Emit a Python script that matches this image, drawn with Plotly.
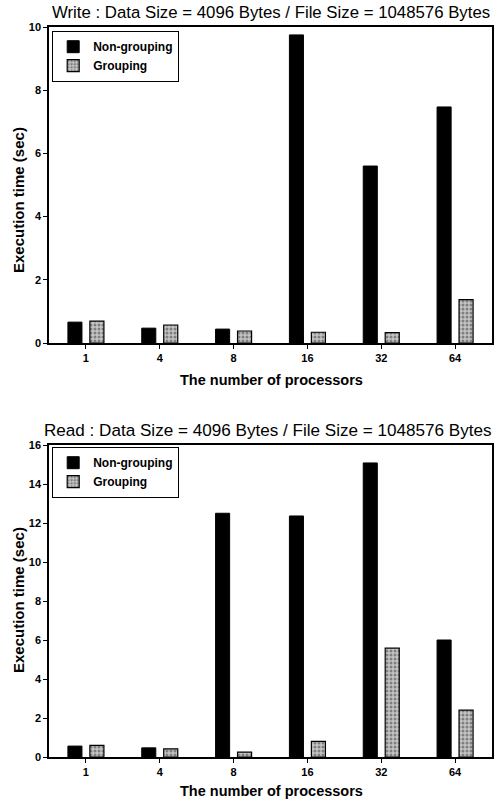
import plotly.graph_objects as go

procs = ["1", "4", "8", "16", "32", "64"]
write_nongroup = [0.66, 0.47, 0.44, 9.75, 5.6, 7.47]
write_group = [0.69, 0.57, 0.38, 0.34, 0.33, 1.37]
read_nongroup = [0.56, 0.47, 12.5, 12.36, 15.08, 6.0]
read_group = [0.6, 0.42, 0.25, 0.8, 5.58, 2.4]

write_title = "Write : Data Size = 4096 Bytes / File Size = 1048576 Bytes"
read_title = "Read : Data Size = 4096 Bytes / File Size = 1048576 Bytes"
xlab = "The number of processors"
ylab = "Execution time (sec)"

FONT = "Liberation Sans, Arial, Helvetica, sans-serif"
W, H = 496, 805

fig = go.Figure()

ng_style = dict(marker=dict(color="black", line=dict(color="black", width=1)))
g_style = dict(marker=dict(color="#b0b0b0",
                           pattern=dict(shape=".", fgcolor="#3a3a3a", bgcolor="#c4c4c4", size=4, solidity=0.45),
                           line=dict(color="black", width=1.2)))

fig.add_trace(go.Bar(x=procs, y=write_nongroup, name="Non-grouping", xaxis="x", yaxis="y",
                     legend="legend", **ng_style))
fig.add_trace(go.Bar(x=procs, y=write_group, name="Grouping", xaxis="x", yaxis="y",
                     legend="legend", **g_style))
fig.add_trace(go.Bar(x=procs, y=read_nongroup, name="Non-grouping", xaxis="x2", yaxis="y2",
                     legend="legend2", **ng_style))
fig.add_trace(go.Bar(x=procs, y=read_group, name="Grouping", xaxis="x2", yaxis="y2",
                     legend="legend2", **g_style))

xdom = [49 / W, 492 / W]
top_dom = [(H - 343) / H, (H - 27) / H]
bot_dom = [(H - 757) / H, (H - 445) / H]

tickfont = dict(family=FONT, size=11, color="black", weight="bold")
axis_common = dict(showline=True, linecolor="black", linewidth=1.5, mirror=True,
                   ticks="outside", ticklen=4, tickcolor="black", tickwidth=1.2,
                   showgrid=False, zeroline=False, tickfont=tickfont, automargin=False)

legend_common = dict(xanchor="left", yanchor="top",
                     bgcolor="white", bordercolor="black", borderwidth=1.2,
                     font=dict(family=FONT, size=12, weight="bold"),
                     tracegroupgap=0, itemwidth=30)

fig.update_layout(
    width=W, height=H,
    margin=dict(l=0, r=0, t=0, b=0),
    paper_bgcolor="white", plot_bgcolor="white",
    barmode="group", bargap=0.405, bargroupgap=0.36,
    font=dict(family=FONT, color="black"),
    xaxis=dict(domain=xdom, anchor="y", range=[-0.5, 5.5], type="category", **axis_common),
    yaxis=dict(domain=top_dom, anchor="x", range=[0, 10], dtick=2, **axis_common),
    xaxis2=dict(domain=xdom, anchor="y2", range=[-0.5, 5.5], type="category", **axis_common),
    yaxis2=dict(domain=bot_dom, anchor="x2", range=[0, 16], dtick=2, **axis_common),
    legend=dict(x=52 / W, y=(H - 31) / H, **legend_common),
    legend2=dict(x=52 / W, y=(H - 447) / H, **legend_common),
    showlegend=True,
)

def note(text, x, y, size, bold=False, angle=0):
    f = dict(family=FONT, size=size, color="black")
    if bold:
        f["weight"] = "bold"
    return dict(text=text, x=x / W, y=(H - y) / H, xref="paper", yref="paper",
                xanchor="center", yanchor="middle", textangle=angle,
                showarrow=False, font=f)

ann = [
    note(write_title, 271, 13, 16.8),
    note(read_title, 268, 430, 17.1),
    note(xlab, 271, 380, 14.5, bold=True),
    note(xlab, 271, 791, 14.5, bold=True),
    note(ylab, 18, 200, 15, bold=True, angle=-90),
    note(ylab, 18, 600, 15, bold=True, angle=-90),
]
fig.update_layout(annotations=ann)

fig.write_html("out.html", config={"displayModeBar": False},
               post_script="document.body.style.margin='0';document.body.style.overflow='hidden';")
